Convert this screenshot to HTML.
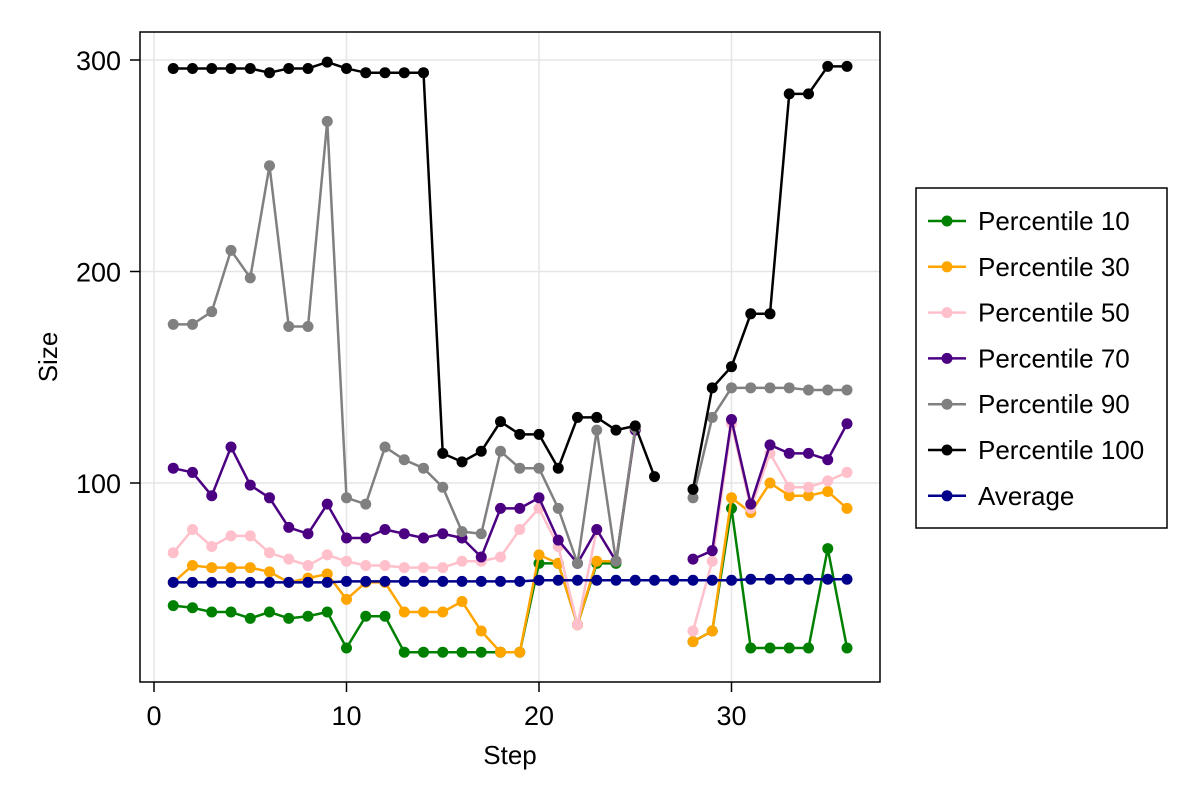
<!DOCTYPE html>
<html><head><meta charset="utf-8"><style>
html,body{margin:0;padding:0;background:#fff;}
svg{font-family:"Liberation Sans",sans-serif;}
</style></head><body>
<svg id="chart" width="1200" height="800" xmlns="http://www.w3.org/2000/svg">
<rect width="1200" height="800" fill="#fff"/>
<g id="grid"></g>
<g id="series"></g>
<rect x="140" y="32" width="740" height="650" fill="none" stroke="#000" stroke-width="1.5"/>
<g id="axes"></g>
<text x="510" y="764" font-size="26" text-anchor="middle">Step</text>
<text transform="translate(57,357) rotate(-90)" font-size="26" text-anchor="middle">Size</text>
<g id="legend"></g>
</svg>
<script>
const steps = Array.from({length:36},(_,i)=>i+1);
const p10 = [42,41,39,39,36,39,36,37,39,22,37,37,20,20,20,20,20,20,20,62,62,33,62,62,125,null,null,25,30,88,22,22,22,22,69,22];
const p30 = [53,61,60,60,60,58,53,55,57,45,53,53,39,39,39,44,30,20,20,66,62,33,63,63,125,null,null,25,30,93,86,100,94,94,96,88];
const p50 = [67,78,70,75,75,67,64,61,66,63,61,61,60,60,60,63,63,65,78,88,70,33,78,63,125,null,null,30,63,128,88,114,98,98,101,105];
const p70 = [107,105,94,117,99,93,79,76,90,74,74,78,76,74,76,74,65,88,88,93,73,62,78,63,125,null,null,64,68,130,90,118,114,114,111,128];
const p90 = [175,175,181,210,197,250,174,174,271,93,90,117,111,107,98,77,76,115,107,107,88,62,125,63,126,null,null,93,131,145,145,145,145,144,144,144];
const p100 = [296,296,296,296,296,294,296,296,299,296,294,294,294,294,114,110,115,129,123,123,107,131,131,125,127,103,null,97,145,155,180,180,284,284,297,297];
const avg = [53,53,53,53,53,53,53,53,53,53.5,53.5,53.5,53.5,53.5,53.5,53.5,53.5,53.5,53.5,54,54,54,54,54,54,54,54,54,54,54,54.5,54.5,54.5,54.5,54.5,54.5];
const xTicks = [0,10,20,30];
const yTicks = [100,200,300];
const seriesNames = ["Percentile 10","Percentile 30","Percentile 50","Percentile 70","Percentile 90","Percentile 100","Average"];
const seriesColors = ["#008000","#FFA500","#FFC0CB","#4B0082","#808080","#000000","#00008B"];
const seriesData = [p10,p30,p50,p70,p90,p100,avg];

const X = v => 154 + v*19.25;
const Y = v => 694.5 - v*2.115;
const NS = "http://www.w3.org/2000/svg";
function mk(tag, attrs, parent){const e=document.createElementNS(NS,tag);for(const k in attrs)e.setAttribute(k,attrs[k]);parent.appendChild(e);return e;}
const grid=document.getElementById('grid'), axes=document.getElementById('axes'), ser=document.getElementById('series'), leg=document.getElementById('legend');

xTicks.forEach(t=>{
  const g=mk('line',{x1:X(t),x2:X(t),y1:32,y2:682,stroke:'#e5e5e5','stroke-width':1.5},grid);
  
  
  const tk=mk('line',{x1:X(t),x2:X(t),y1:682,y2:692,stroke:'#000','stroke-width':1.5},axes);
  
  
  const tx=mk('text',{x:X(t),y:725,'font-size':27,'text-anchor':'middle'},axes);
  tx.textContent=t;
  
  
});
yTicks.forEach(t=>{
  const g=mk('line',{x1:140,x2:880,y1:Y(t),y2:Y(t),stroke:'#e5e5e5','stroke-width':1.5},grid);
  
  
  const tk=mk('line',{x1:130,x2:140,y1:Y(t),y2:Y(t),stroke:'#000','stroke-width':1.5},axes);
  
  
  const tx=mk('text',{x:121,y:Y(t)+10,'font-size':27,'text-anchor':'end'},axes);
  tx.textContent=t;
  
  
});

seriesData.forEach((data,si)=>{
  const g=mk('g',{},ser);
  
  
  let d='', pen=false;
  data.forEach((v,i)=>{
    if(v===null){pen=false;return;}
    d+=(pen?'L':'M')+X(steps[i])+' '+Y(v)+' ';pen=true;
  });
  const p=mk('path',{d:d,fill:'none',stroke:seriesColors[si],'stroke-width':2.5,'stroke-linejoin':'round'},g);
  
  
  data.forEach((v,i)=>{
    if(v===null)return;
    const c=mk('circle',{cx:X(steps[i]),cy:Y(v),r:5.5,fill:seriesColors[si]},g);
    
    
  });
});

const lb=mk('rect',{x:916,y:188,width:251,height:340,fill:'#fff',stroke:'#000','stroke-width':1.5},leg);


seriesNames.forEach((n,i)=>{
  const y=221+i*45.8;
  const g=mk('g',{},leg);
  
  
  mk('line',{x1:928,x2:966,y1:y,y2:y,stroke:seriesColors[i],'stroke-width':2.5},g);
  mk('circle',{cx:947,cy:y,r:5.5,fill:seriesColors[i]},g);
  const t=mk('text',{x:978,y:y+9,'font-size':26},g);
  t.textContent=n;
});
</script>
</body></html>
